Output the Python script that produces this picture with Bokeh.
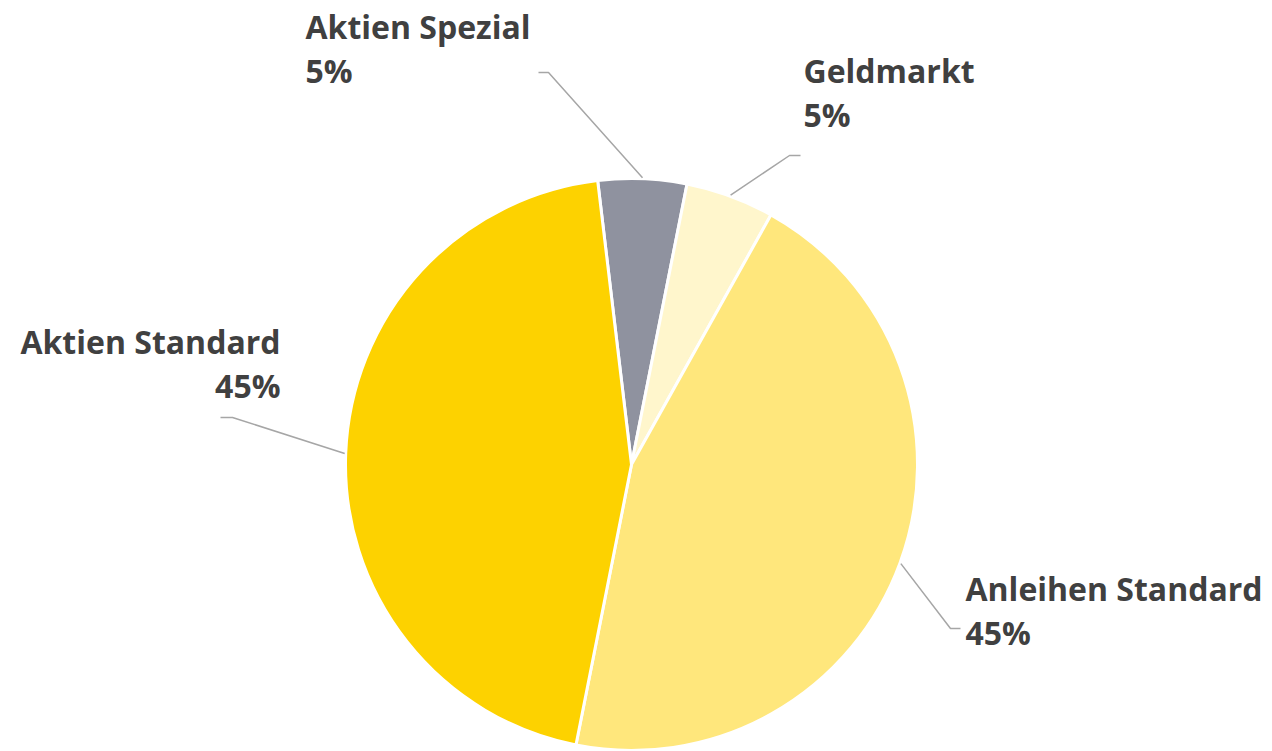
import math
from bokeh.plotting import figure
from bokeh.models import Range1d, ColumnDataSource
from bokeh.core.properties import value
from bokeh.embed import file_html
from bokeh.resources import INLINE

# ---- data ----
categories = ["Aktien Spezial", "Geldmarkt", "Anleihen Standard", "Aktien Standard"]
shares = [5, 5, 45, 45]
pct_labels = ["5%", "5%", "45%", "45%"]
colors = ["#8F929F", "#FFF6CC", "#FFE77C", "#FDD200"]

W, H = 1272, 751
CX, CY, R = 631, H - 464, 286
START_DEG = -6.8  # clockwise from 12 o'clock

p = figure(width=W, height=H, x_range=Range1d(0, W), y_range=Range1d(0, H),
           output_backend="svg", toolbar_location=None, min_border=0)
p.axis.visible = False
p.grid.visible = False
p.outline_line_color = None
p.background_fill_color = "white"

total = sum(shares)
starts, ends, mids = [], [], []
acc = START_DEG
for v in shares:
    a0 = acc
    a1 = acc + v / total * 360
    starts.append(math.radians(90 - a0))
    ends.append(math.radians(90 - a1))
    mids.append((a0 + a1) / 2)
    acc = a1

src = ColumnDataSource(dict(x=[CX] * 4, y=[CY] * 4, s=starts, e=ends, c=colors))
p.wedge(x="x", y="y", radius=R, start_angle="s", end_angle="e", direction="clock",
        fill_color="c", line_color="white", line_width=3, source=src)

# label layout (pixel coords from top): elbow point, line end, text anchor, align
layout = {
    "Aktien Spezial": dict(elbow=(548, 72), end=(538, 72), tx=305, ty=26, align="left"),
    "Geldmarkt": dict(elbow=(789, 155), end=(800, 155), tx=803, ty=70, align="left"),
    "Anleihen Standard": dict(elbow=(950, 628), end=(960, 628), tx=965, ty=588, align="left"),
    "Aktien Standard": dict(elbow=(232, 417), end=(220, 417), tx=280, ty=341, align="right"),
}
LINE_GAP = 44

for cat, pct, m in zip(categories, pct_labels, mids):
    L = layout[cat]
    ang = math.radians(90 - m)
    sx = CX + (R + 1) * math.cos(ang)
    sy = CY + (R + 1) * math.sin(ang)
    ex, ey = L["elbow"]
    fx, fy = L["end"]
    p.line([sx, ex, fx], [sy, H - ey, H - fy], line_color="#A6A6A6", line_width=1.5)
    p.text(x=[L["tx"], L["tx"]], y=[H - L["ty"], H - L["ty"] - LINE_GAP], text=[cat, pct],
           text_font=value("Open Sans"), text_font_style="bold", text_font_size="32px",
           text_color="#404040", text_align=L["align"], text_baseline="middle")

open("out.html", "w").write(file_html(p, INLINE))
